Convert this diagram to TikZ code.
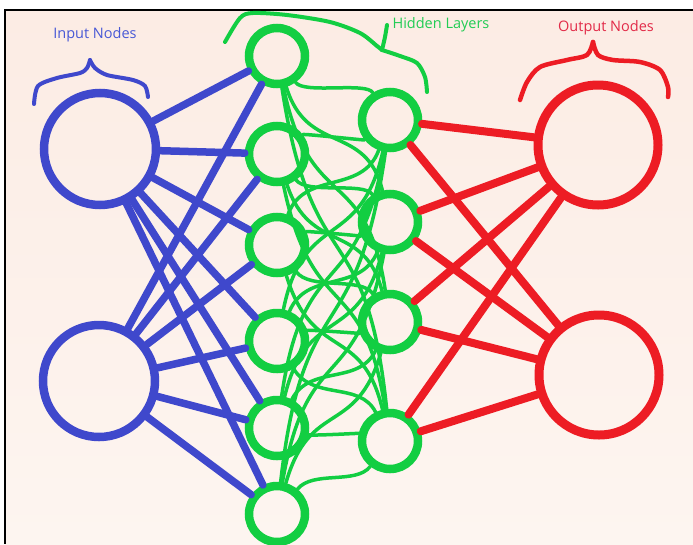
\documentclass[tikz,border=0pt]{standalone}
\usepackage{fontspec}
\setmainfont{Open Sans}
\definecolor{nnblue}{RGB}{63,72,204}
\definecolor{nnred}{RGB}{237,28,36}
\definecolor{nngreen}{RGB}{18,206,66}
\definecolor{txtblue}{RGB}{72,88,214}
\definecolor{txtgreen}{RGB}{34,204,84}
\definecolor{txtred}{RGB}{226,42,72}
\definecolor{bgtop}{RGB}{252,236,228}
\definecolor{bgbot}{RGB}{253,245,240}

\begin{document}
\begin{tikzpicture}[x=1pt,y=-1pt,
    neuron/.style={circle,draw,inner sep=0pt},
    inneuron/.style={neuron,nnblue,line width=8.5pt,minimum size=112pt},
    hidneuron/.style={neuron,nngreen,line width=8.5pt,minimum size=56pt},
    outneuron/.style={neuron,nnred,line width=9pt,minimum size=120pt},
    bluelink/.style={draw=nnblue,line width=7.5pt,line cap=round},
    greenlink/.style={draw=nngreen,line width=3.5pt,line cap=round},
    redlink/.style={draw=nnred,line width=8pt,line cap=round},
    bracket/.style={line width=4pt,line cap=round,line join=round},
    caption/.style={font=\fontsize{14.5}{16}\selectfont}]
			\useasboundingbox (0,0) rectangle (693,544);
			\fill[white] (0,0) rectangle (693,544);
			\shade[top color=bgtop,bottom color=bgbot] (5,10) rectangle (693,544);
			\draw[line width=2pt] (5,544) -- (5,10) -- (693,10);
			
			% Input nodes
			\node[inneuron] (in1) at (100,149) {};
			\node[inneuron] (in2) at (99,381) {};
			
			% Hidden layers
			\foreach \i/\y in {1/56,2/154,3/245,4/341,5/428,6/514}
				\node[hidneuron] (ha\i) at (277,\y) {};
			\foreach \j/\y in {1/120,2/222,3/322,4/441}
				\node[hidneuron] (hb\j) at (390,\y) {};
			
			% Output nodes
			\node[outneuron] (out1) at (598,145) {};
			\node[outneuron] (out2) at (599,375) {};
			
			% Weights
			\foreach \k in {1,2}
				\foreach \i in {1,...,6}
					\draw[bluelink] (in\k) -- (ha\i);
			\foreach \i/\ya in {1/56,2/154,3/245,4/341,5/428,6/514}
				\foreach \j/\yb in {1/120,2/222,3/322,4/441}{
					\pgfmathsetmacro{\dy}{\yb-\ya}
					\draw[greenlink] (ha\i) .. controls +(24+3*\j,0.6*\dy) and +(-22-2*\i,-0.6*\dy) .. (hb\j);
				}
			\foreach \j in {1,...,4}
				\foreach \k in {1,2}
					\draw[redlink] (hb\j) -- (out\k);
			
			% Braces
			\draw[bracket,nnblue] plot[smooth] coordinates {(34,104) (38,86) (57,78) (80,73) (87,68) (90,60)};
			\draw[bracket,nnblue] plot[smooth] coordinates {(90,60) (95,68) (107,75) (133,80) (145,86) (148,97)};
			\draw[bracket,nngreen] plot[smooth] coordinates {(225,42) (240,18) (253,13) (287,15) (330,22) (360,33) (377,46) (382,50)};
			\draw[bracket,nngreen] plot[smooth] coordinates {(382,50) (385,37) (387,25)};
			\draw[bracket,nngreen] plot[smooth] coordinates {(382,50) (400,56) (417,63) (425,77) (427,92)};
			\draw[bracket,nnred,line width=4.5pt] plot[smooth] coordinates {(520,100) (527,82) (540,67) (567,60) (587,55) (593,42)};
			\draw[bracket,nnred,line width=4.5pt] plot[smooth] coordinates {(593,42) (598,55) (613,60) (640,62) (660,70) (668,87) (668,97)};
			
			% Labels
			\node[caption,text=txtblue] (lblin) at (95,35) {Input Nodes};
			\node[caption,text=txtgreen] (lblhid) at (441,25) {Hidden Layers};
			\node[caption,text=txtred] (lblout) at (606,28) {Output Nodes};
			
		\end{tikzpicture}
\end{document}
